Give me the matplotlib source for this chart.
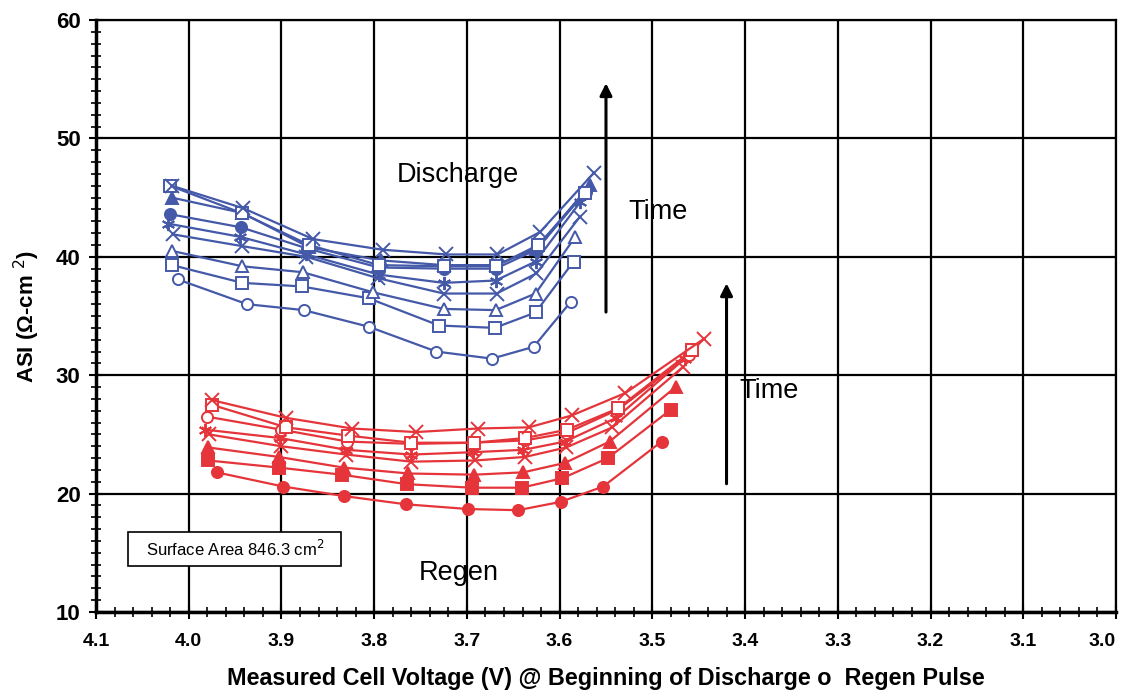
import matplotlib.pyplot as plt
from matplotlib.ticker import MultipleLocator
from matplotlib.patches import Rectangle

plt.rcParams['font.family'] = ['Liberation Sans', 'DejaVu Sans']

# discharge (blue) series, bottom to top
d_v = [
    [4.012, 3.937, 3.876, 3.806, 3.733, 3.673, 3.628, 3.588],
    [4.018, 3.942, 3.878, 3.806, 3.730, 3.670, 3.626, 3.585],
    [4.018, 3.942, 3.877, 3.801, 3.725, 3.669, 3.626, 3.583],
    [4.017, 3.942, 3.873, 3.796, 3.725, 3.668, 3.625, 3.578],
    [4.022, 3.945, 3.873, 3.795, 3.725, 3.669, 3.626, 3.578],
    [4.020, 3.944, 3.872, 3.795, 3.725, 3.669, 3.625, 3.572],
    [4.018, 3.942, 3.870, 3.793, 3.725, 3.669, 3.625, 3.567],
    [4.020, 3.943, 3.870, 3.795, 3.725, 3.669, 3.623, 3.573],
    [4.018, 3.941, 3.866, 3.791, 3.722, 3.667, 3.621, 3.563],
]
d_asi = [
    [38.1, 36.0, 35.5, 34.1, 32.0, 31.4, 32.4, 36.2],
    [39.3, 37.8, 37.5, 36.5, 34.2, 34.0, 35.3, 39.6],
    [40.5, 39.2, 38.7, 37.0, 35.6, 35.5, 36.9, 41.7],
    [41.9, 40.9, 40.0, 38.2, 36.9, 36.9, 38.6, 43.4],
    [42.8, 41.7, 40.2, 38.5, 37.8, 38.0, 39.6, 44.6],
    [43.6, 42.5, 40.7, 39.1, 39.0, 39.0, 40.6, 45.5],
    [45.0, 43.7, 40.8, 39.7, 39.3, 39.3, 40.7, 46.1],
    [46.0, 43.7, 41.0, 39.3, 39.2, 39.2, 41.0, 45.4],
    [46.0, 44.1, 41.5, 40.6, 40.2, 40.2, 42.1, 47.1],
]
d_markers = ['o', 's', '^', 'x', (6, 2, 0), 'o', '^', 's', 'x']
d_filled = [False, False, False, True, True, True, True, False, True]

# regen (red) series, bottom to top
r_v = [
    [3.970, 3.898, 3.833, 3.766, 3.699, 3.645, 3.599, 3.553, 3.490],
    [3.979, 3.903, 3.835, 3.765, 3.695, 3.641, 3.597, 3.548, 3.480],
    [3.979, 3.903, 3.833, 3.763, 3.692, 3.639, 3.594, 3.546, 3.475],
    [3.978, 3.900, 3.830, 3.760, 3.691, 3.637, 3.593, 3.543, 3.467],
    [3.982, 3.902, 3.830, 3.760, 3.693, 3.639, 3.594, 3.539, 3.465],
    [3.980, 3.900, 3.829, 3.760, 3.693, 3.637, 3.593, 3.537, 3.460],
    [3.975, 3.895, 3.828, 3.760, 3.692, 3.637, 3.592, 3.537, 3.457],
    [3.975, 3.895, 3.824, 3.755, 3.688, 3.633, 3.587, 3.529, 3.444],
]
r_asi = [
    [21.8, 20.6, 19.8, 19.1, 18.7, 18.6, 19.3, 20.6, 24.4],
    [22.8, 22.2, 21.6, 20.8, 20.5, 20.5, 21.3, 23.0, 27.1],
    [23.9, 23.1, 22.2, 21.7, 21.6, 21.8, 22.6, 24.4, 29.0],
    [25.0, 24.0, 23.3, 22.7, 22.8, 23.1, 23.9, 25.6, 30.7],
    [25.4, 24.7, 23.7, 23.3, 23.5, 23.7, 24.4, 26.4, 31.4],
    [26.5, 25.4, 24.4, 24.2, 24.3, 24.5, 25.1, 27.1, 31.7],
    [27.5, 25.6, 24.9, 24.3, 24.3, 24.7, 25.4, 27.2, 32.1],
    [27.9, 26.4, 25.5, 25.2, 25.5, 25.6, 26.6, 28.5, 33.1],
]
r_markers = ['o', 's', '^', 'x', (6, 2, 0), 'o', 's', 'x']
r_filled = [True, True, True, True, True, False, False, True]

x_ticks = [4.1, 4.0, 3.9, 3.8, 3.7, 3.6, 3.5, 3.4, 3.3, 3.2, 3.1, 3.0]
y_ticks = [10, 20, 30, 40, 50, 60]

blue = '#4459a8'
red = '#e5353b'

fig = plt.figure(figsize=(11.25, 6.91), dpi=100)
ax = fig.add_axes([0.0853, 0.1143, 0.9067, 0.8567])


def draw(vs, ys, markers, filled, color):
    for v, y, m, f in zip(vs, ys, markers, filled):
        ax.plot(v, y, color=color, lw=1.6, marker=m, ms=8 if m in ('o', 's', '^') else 9.5,
                mfc=color if f else 'white', mec=color, mew=1.4, zorder=3)


draw(d_v, d_asi, d_markers, d_filled, blue)
draw(r_v, r_asi, r_markers, r_filled, red)

ax.set_xlim(4.1, 3.0)
ax.set_ylim(10, 60)
ax.set_xticks(x_ticks)
ax.set_xticklabels(['%.1f' % t for t in x_ticks])
ax.set_yticks(y_ticks)
ax.xaxis.set_minor_locator(MultipleLocator(0.02))
ax.yaxis.set_minor_locator(MultipleLocator(1))
ax.grid(True, which='major', color='black', lw=1.6)
ax.set_axisbelow(True)
ax.tick_params(which='major', direction='inout', length=10, width=1.5, pad=8)
ax.tick_params(which='minor', direction='inout', length=7, width=1.2)
ax.tick_params(axis='y', labelsize=16, pad=6)
ax.tick_params(axis='x', labelsize=14, pad=10)
for lab in ax.get_xticklabels() + ax.get_yticklabels():
    lab.set_fontweight('bold')
ax.get_xticklabels()[-1].set_horizontalalignment('right')
for s in ['left', 'bottom']:
    ax.spines[s].set_linewidth(2.5)
for s in ['top', 'right']:
    ax.spines[s].set_linewidth(1.6)

ax.set_xlabel('Measured Cell Voltage (V) @ Beginning of Discharge o  Regen Pulse',
              fontsize=16.8, fontweight='bold', labelpad=12)
ax.set_ylabel('ASI (\u03a9-cm $^{2}$)', fontsize=16, fontweight='bold', labelpad=10)

ax.text(3.776, 46.9, 'Discharge', fontsize=19.5, va='center')
ax.text(3.526, 43.8, 'Time', fontsize=19.5, va='center')
ax.text(3.406, 28.7, 'Time', fontsize=19.5, va='center')
ax.text(3.752, 13.3, 'Regen', fontsize=19.5, va='center')
ax.annotate('', xy=(3.550, 54.9), xytext=(3.550, 35.1),
            arrowprops=dict(arrowstyle='-|>', color='black', lw=2.2, mutation_scale=18))
ax.annotate('', xy=(3.420, 38.0), xytext=(3.420, 20.6),
            arrowprops=dict(arrowstyle='-|>', color='black', lw=2.2, mutation_scale=18))
ax.add_patch(Rectangle((4.0656, 13.89), -0.2298, 2.87, facecolor='white',
                       edgecolor='black', lw=1.2, zorder=4))
ax.text(4.046, 15.3, 'Surface Area 846.3 cm$^{2}$', fontsize=12, va='center', zorder=5)

fig.savefig('out.png', dpi=100)
